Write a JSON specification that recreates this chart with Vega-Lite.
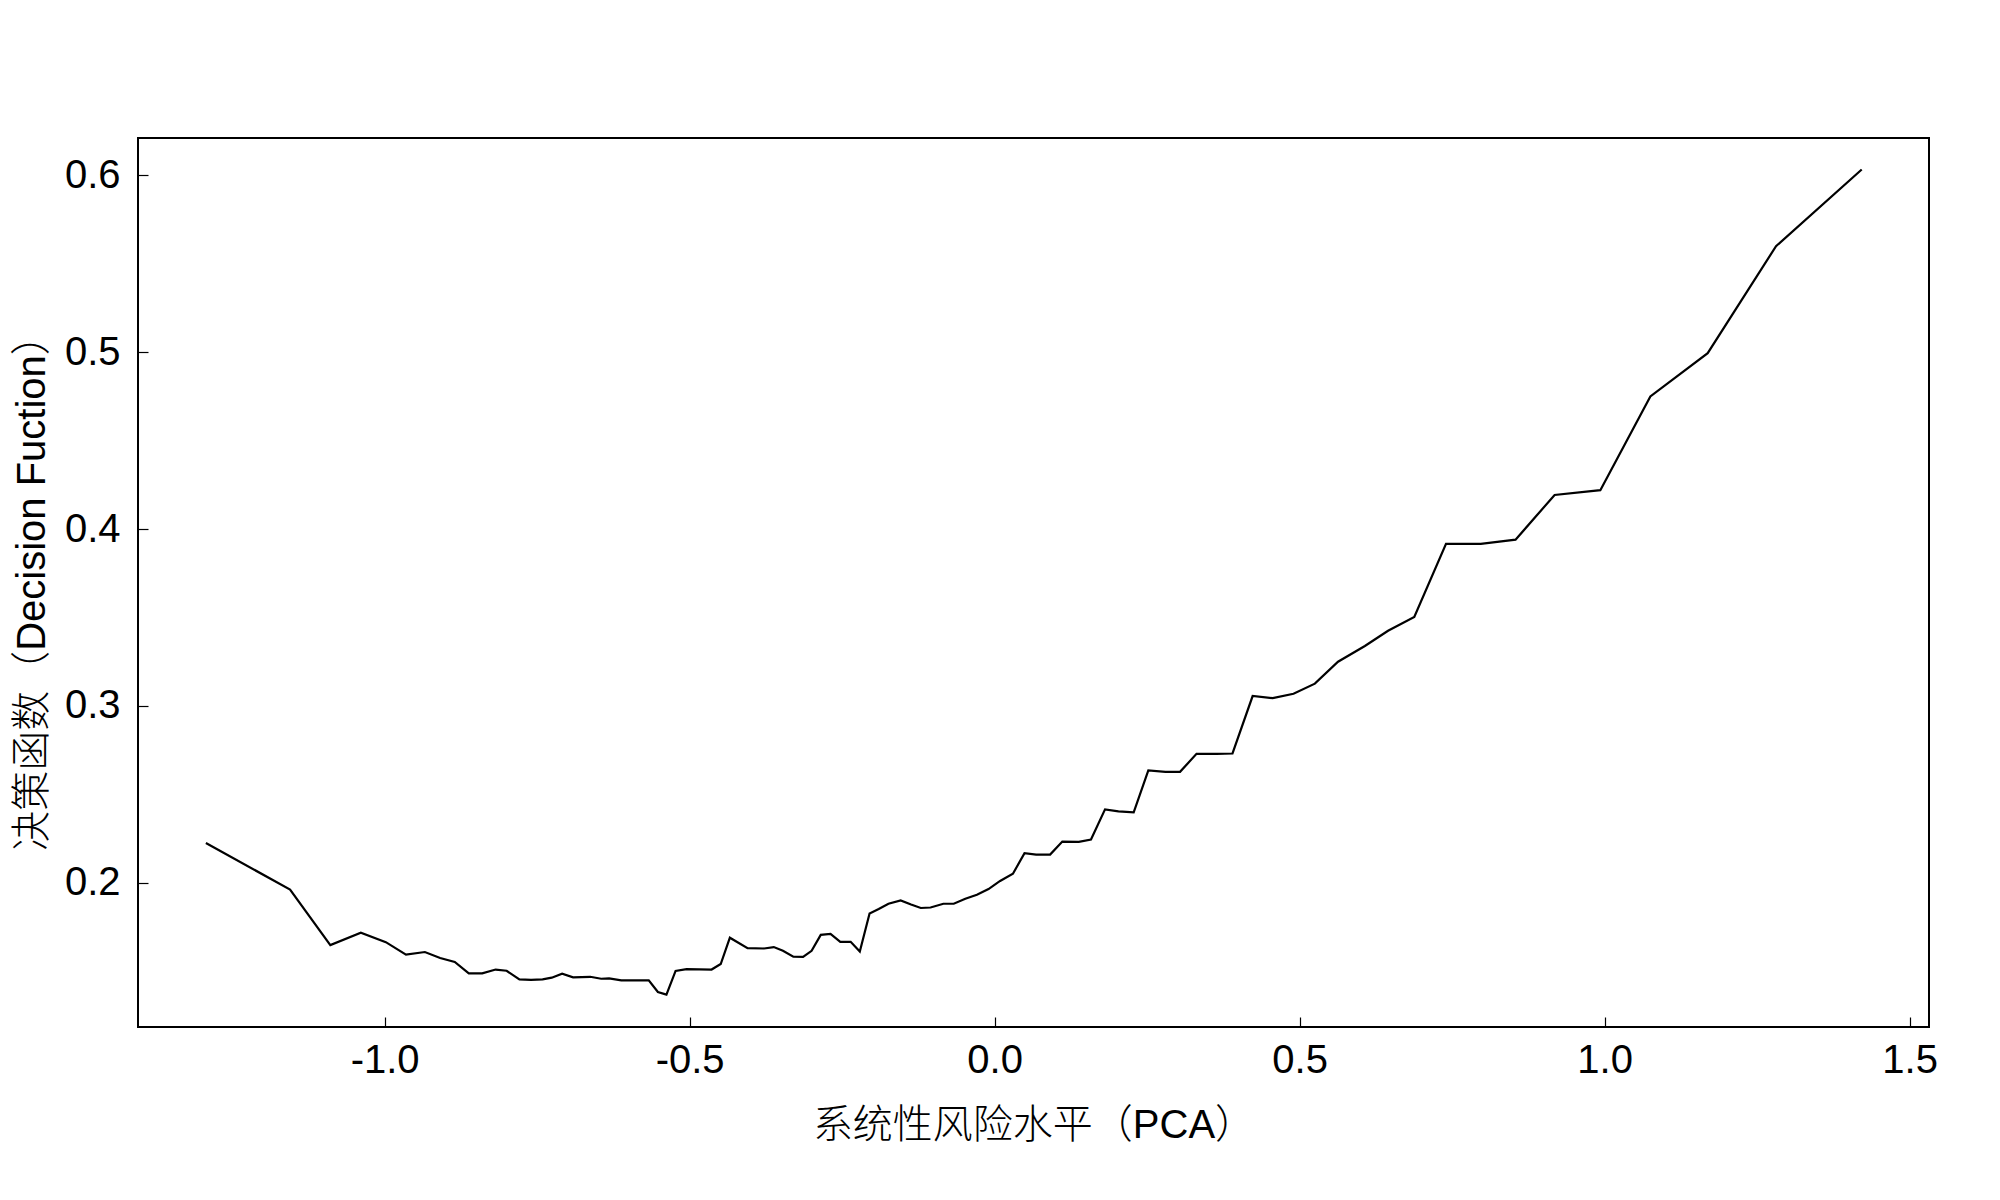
{
  "$schema": "https://vega.github.io/schema/vega-lite/v6.json",
  "width": 1791,
  "height": 889,
  "autosize": {"type": "none"},
  "padding": {"left": 138, "top": 138, "right": 71, "bottom": 173},
  "background": "white",
  "config": {
    "view": {"stroke": "black", "strokeWidth": 2},
    "axis": {
      "domain": false,
      "grid": false,
      "ticks": true,
      "tickColor": "black",
      "tickWidth": 1.2,
      "tickSize": -10,
      "labelFont": "Liberation Sans",
      "labelFontSize": 40,
      "labelColor": "black",
      "titleFont": "Liberation Sans, Noto Sans CJK SC",
      "titleFontSize": 40,
      "titleFontWeight": 300,
      "titleColor": "black"
    }
  },
  "data": {
    "values": [
      {"x": -1.293, "y": 0.2225},
      {"x": -1.155, "y": 0.1961},
      {"x": -1.089, "y": 0.1647},
      {"x": -1.039, "y": 0.1717},
      {"x": -0.998, "y": 0.1664},
      {"x": -0.965, "y": 0.1593},
      {"x": -0.934, "y": 0.1608},
      {"x": -0.909, "y": 0.1574},
      {"x": -0.885, "y": 0.1552},
      {"x": -0.862, "y": 0.1487},
      {"x": -0.84, "y": 0.1487},
      {"x": -0.818, "y": 0.1509},
      {"x": -0.8, "y": 0.1502},
      {"x": -0.779, "y": 0.1453},
      {"x": -0.76, "y": 0.145},
      {"x": -0.741, "y": 0.1453},
      {"x": -0.726, "y": 0.1463},
      {"x": -0.709, "y": 0.1485},
      {"x": -0.691, "y": 0.1465},
      {"x": -0.663, "y": 0.1468},
      {"x": -0.645, "y": 0.1457},
      {"x": -0.632, "y": 0.1459},
      {"x": -0.612, "y": 0.1448},
      {"x": -0.567, "y": 0.1448},
      {"x": -0.552, "y": 0.1382},
      {"x": -0.538, "y": 0.1367},
      {"x": -0.523, "y": 0.1501},
      {"x": -0.505, "y": 0.1511},
      {"x": -0.464, "y": 0.1509},
      {"x": -0.449, "y": 0.154},
      {"x": -0.434, "y": 0.1689},
      {"x": -0.405, "y": 0.163},
      {"x": -0.378, "y": 0.1628},
      {"x": -0.362, "y": 0.1636},
      {"x": -0.347, "y": 0.1615},
      {"x": -0.33, "y": 0.1582},
      {"x": -0.314, "y": 0.1581},
      {"x": -0.3, "y": 0.1615},
      {"x": -0.285, "y": 0.1705},
      {"x": -0.269, "y": 0.1711},
      {"x": -0.253, "y": 0.1666},
      {"x": -0.236, "y": 0.1666},
      {"x": -0.221, "y": 0.1611},
      {"x": -0.205, "y": 0.1826},
      {"x": -0.19, "y": 0.1851},
      {"x": -0.174, "y": 0.1881},
      {"x": -0.154, "y": 0.19},
      {"x": -0.137, "y": 0.1877},
      {"x": -0.121, "y": 0.1857},
      {"x": -0.105, "y": 0.186},
      {"x": -0.084, "y": 0.1881},
      {"x": -0.067, "y": 0.1881},
      {"x": -0.048, "y": 0.1909},
      {"x": -0.029, "y": 0.1932},
      {"x": -0.01, "y": 0.1964},
      {"x": 0.009, "y": 0.201},
      {"x": 0.03, "y": 0.2051},
      {"x": 0.049, "y": 0.2167},
      {"x": 0.068, "y": 0.2159},
      {"x": 0.091, "y": 0.2159},
      {"x": 0.111, "y": 0.2233},
      {"x": 0.138, "y": 0.2231},
      {"x": 0.158, "y": 0.2244},
      {"x": 0.181, "y": 0.2415},
      {"x": 0.203, "y": 0.2404},
      {"x": 0.228, "y": 0.2398},
      {"x": 0.252, "y": 0.2635},
      {"x": 0.28, "y": 0.2627},
      {"x": 0.304, "y": 0.2627},
      {"x": 0.331, "y": 0.2729},
      {"x": 0.364, "y": 0.2729},
      {"x": 0.39, "y": 0.2731},
      {"x": 0.423, "y": 0.3056},
      {"x": 0.456, "y": 0.3044},
      {"x": 0.49, "y": 0.3069},
      {"x": 0.525, "y": 0.3126},
      {"x": 0.563, "y": 0.325},
      {"x": 0.607, "y": 0.3339},
      {"x": 0.645, "y": 0.3425},
      {"x": 0.688, "y": 0.3503},
      {"x": 0.74, "y": 0.3917},
      {"x": 0.797, "y": 0.3917},
      {"x": 0.854, "y": 0.394},
      {"x": 0.918, "y": 0.4193},
      {"x": 0.993, "y": 0.422},
      {"x": 1.075, "y": 0.475},
      {"x": 1.169, "y": 0.4995},
      {"x": 1.281, "y": 0.56},
      {"x": 1.4215, "y": 0.6034}
    ]
  },
  "mark": {"type": "line", "color": "black", "strokeWidth": 2.2, "clip": true},
  "encoding": {
    "x": {
      "field": "x",
      "type": "quantitative",
      "scale": {"domain": [-1.4043, 1.5318], "nice": false, "zero": false},
      "axis": {
        "values": [-1.0, -0.5, 0.0, 0.5, 1.0, 1.5],
        "labelExpr": "datum.value < 0 ? '-' + format(-datum.value, '.1f') : format(datum.value, '.1f')",
        "labelPadding": 23,
        "title": "系统性风险水平（PCA）",
        "titleY": 98,
        "titleBaseline": "middle"
      }
    },
    "y": {
      "field": "y",
      "type": "quantitative",
      "scale": {"domain": [0.1184, 0.6212], "nice": false, "zero": false},
      "axis": {
        "values": [0.2, 0.3, 0.4, 0.5, 0.6],
        "format": ".1f",
        "labelPadding": 28,
        "title": "决策函数（Decision Fuction）",
        "titleX": -106,
        "titleBaseline": "middle"
      }
    }
  }
}
